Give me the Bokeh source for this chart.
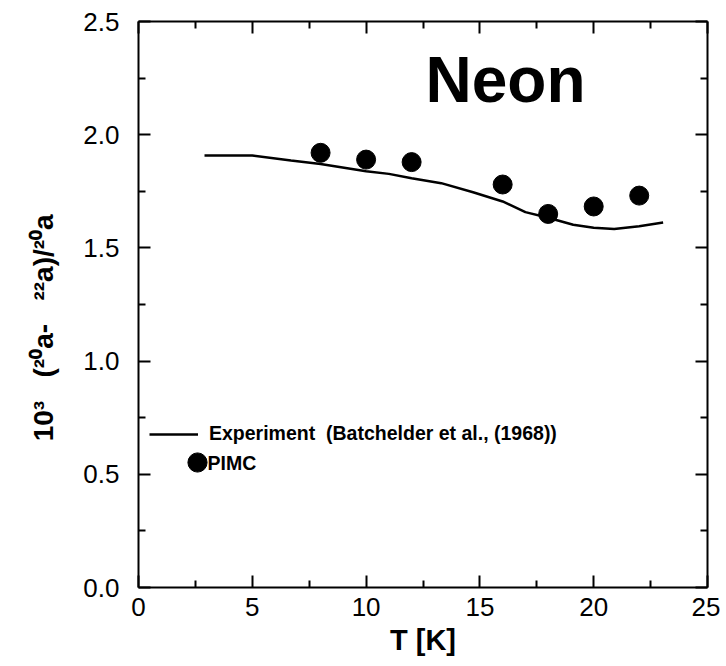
from bokeh.plotting import figure
from bokeh.models import LinearAxis, FixedTicker, Label, Legend, LegendItem, Range1d, NumeralTickFormatter
from bokeh.embed import file_html
from bokeh.resources import INLINE

# ---- data ----
exp_T = [2.9, 5.0, 6.7, 8.0, 10.0, 11.0, 12.0, 13.3, 14.7, 16.0, 17.0, 18.0, 19.1, 20.0, 20.9, 22.0, 23.05]
exp_val = [1.908, 1.908, 1.886, 1.871, 1.839, 1.827, 1.808, 1.786, 1.746, 1.705, 1.658, 1.633, 1.602,
           1.589, 1.583, 1.596, 1.612]
pimc_T = [8, 10, 12, 16, 18, 20, 22]
pimc_val = [1.920, 1.890, 1.879, 1.780, 1.650, 1.683, 1.731]

x_major = [0, 5, 10, 15, 20, 25]
x_minor = [2.5, 7.5, 12.5, 17.5, 22.5]
y_major = [0.0, 0.5, 1.0, 1.5, 2.0, 2.5]
y_minor = [0.25, 0.75, 1.25, 1.75, 2.25]

NB = "\u00a0"
title_text = "Neon"
x_label = "T [K]"
y_label = "10\u00b3" + NB * 3 + "(\u00b2\u2070a-" + NB * 3 + "\u00b2\u00b2a)/\u00b2\u2070a" + NB * 6
exp_label = "Experiment  (Batchelder et al., (1968))"
pimc_label = "PIMC"

FONT = "Liberation Sans"

p = figure(width=720, height=660, output_backend="svg", toolbar_location=None,
           x_range=Range1d(0, 25), y_range=Range1d(0, 2.5),
           min_border_left=138, min_border_right=13, min_border_top=21, min_border_bottom=73,
           x_axis_location=None, y_axis_location=None)
p.xgrid.visible = False
p.ygrid.visible = False
p.outline_line_color = None
p.background_fill_color = "white"
p.border_fill_color = "white"

def style_axis(ax, ticks, minor, show_labels):
    ax.ticker = FixedTicker(ticks=ticks, minor_ticks=minor)
    ax.axis_line_width = 2
    ax.axis_line_color = "black"
    ax.major_tick_line_width = 2
    ax.major_tick_line_color = "black"
    ax.minor_tick_line_width = 2
    ax.minor_tick_line_color = "black"
    ax.major_tick_in = 12
    ax.major_tick_out = 0
    ax.minor_tick_in = 7
    ax.minor_tick_out = 0
    if show_labels:
        ax.major_label_text_font = FONT
        ax.major_label_text_font_size = "26px"
        ax.major_label_text_color = "black"
    else:
        ax.major_label_overrides = {t: "" for t in ticks}
        ax.major_label_text_font_size = "0px"
        ax.major_label_standoff = 0

xb = LinearAxis()
style_axis(xb, x_major, x_minor, True)
xb.major_label_standoff = 10
xb.axis_label = x_label
xb.axis_label_text_font = FONT
xb.axis_label_text_font_style = "bold"
xb.axis_label_text_font_size = "29px"
xb.axis_label_text_color = "black"
xb.axis_label_standoff = 5
p.add_layout(xb, "below")

yl = LinearAxis(formatter=NumeralTickFormatter(format="0.0"))
style_axis(yl, y_major, y_minor, True)
yl.major_label_standoff = 19
yl.axis_label = y_label
yl.axis_label_text_font = FONT
yl.axis_label_text_font_style = "bold"
yl.axis_label_text_font_size = "28px"
yl.axis_label_text_color = "black"
yl.axis_label_standoff = 21
p.add_layout(yl, "left")

xt = LinearAxis()
style_axis(xt, x_major, x_minor, False)
p.add_layout(xt, "above")

yr = LinearAxis()
style_axis(yr, y_major, y_minor, False)
p.add_layout(yr, "right")

r_line = p.line(exp_T, exp_val, line_width=2.5, line_color="black")
r_pts = p.scatter(pimc_T, pimc_val, size=19, fill_color="black", line_color="black")

def make_legend(item, loc, gw, gh, standoff):
    return Legend(items=[item], location=loc, glyph_width=gw, glyph_height=gh, label_height=gh,
                  label_standoff=standoff, padding=0, margin=0, spacing=0,
                  border_line_color=None, background_fill_alpha=0,
                  label_text_font=FONT, label_text_font_style="bold", label_text_font_size="19.5px",
                  label_text_color="black")

p.add_layout(make_legend(LegendItem(label=exp_label, renderers=[r_line]), (11, 142), 49, 22, 11))
p.add_layout(make_legend(LegendItem(label=" ", renderers=[r_pts]), (35, 101), 48, 48, 0))

p.add_layout(Label(x=69, y=125, x_units="screen", y_units="screen", text=pimc_label,
                   text_font=FONT, text_font_style="bold", text_font_size="19.5px",
                   text_align="left", text_baseline="middle", text_color="black"))

p.add_layout(Label(x=367, y=508, x_units="screen", y_units="screen", text=title_text,
                   text_font=FONT, text_font_style="bold", text_font_size="64px",
                   text_align="center", text_baseline="middle", text_color="black"))

open("out.html", "w").write(file_html(p, INLINE))
